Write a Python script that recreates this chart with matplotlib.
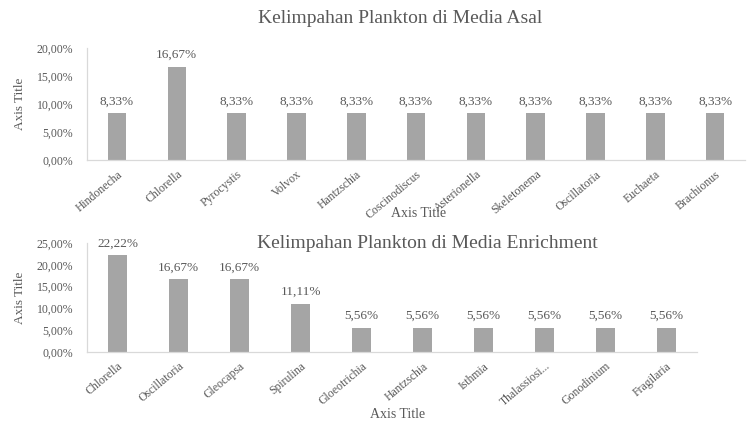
import numpy as np
import matplotlib
matplotlib.use("Agg")
import matplotlib.pyplot as plt
from matplotlib.ticker import FuncFormatter

# Kelimpahan plankton (persen) per genus
asal_genus = ["Hindonecha", "Chlorella", "Pyrocystis", "Volvox", "Hantzschia",
              "Coscinodiscus", "Asterionella", "Skeletonema", "Oscillatoria",
              "Euchaeta", "Brachionus"]
asal_pct = [8.33, 16.67, 8.33, 8.33, 8.33, 8.33, 8.33, 8.33, 8.33, 8.33, 8.33]

enrich_genus = ["Chlorella", "Oscillatoria", "Gleocapsa", "Spirulina", "Gloeotrichia",
                "Hantzschia", "Isthmia", "Thalassiosi...", "Gonodinium", "Fragilaria"]
enrich_pct = [22.22, 16.67, 16.67, 11.11, 5.56, 5.56, 5.56, 5.56, 5.56, 5.56]

asal_ticks = [0, 5, 10, 15, 20]
enrich_ticks = [0, 5, 10, 15, 20, 25]

TXT = "#595959"
BAR = "#a5a5a5"
AXL = "#d9d9d9"

plt.rcParams["font.family"] = ["Liberation Serif", "DejaVu Serif"]


def pct_fmt(v, _=None):
    return f"{v:.2f}%".replace(".", ",")


def draw(ax, names, vals, ticks, title, title_x, title_y):
    x = np.arange(len(names))
    bars = ax.bar(x, vals, width=0.31, color=BAR)
    for b, v in zip(bars, vals):
        ax.annotate(pct_fmt(v), (b.get_x() + b.get_width() / 2, v), xytext=(0, 4),
                    textcoords="offset points", ha="center", va="bottom",
                    fontsize=9.5, color=TXT, annotation_clip=False)
    ax.set_xlim(-0.5, len(names) - 0.5)
    ax.set_ylim(0, ticks[-1])
    ax.set_yticks(ticks)
    ax.yaxis.set_major_formatter(FuncFormatter(pct_fmt))
    ax.set_xticks(x)
    ax.set_xticklabels(names, rotation=40, ha="right", rotation_mode="anchor")
    ax.tick_params(axis="both", length=0, labelsize=8.5, colors=TXT)
    ax.tick_params(axis="y", pad=10)
    ax.tick_params(axis="x", pad=6)
    for s in ("top", "right"):
        ax.spines[s].set_visible(False)
    for s in ("left", "bottom"):
        ax.spines[s].set_color(AXL)
        ax.spines[s].set_linewidth(0.9)
    ax.set_ylabel("Axis Title", fontsize=9.5, color=TXT, labelpad=8)
    fig.text(title_x, title_y, title, ha="center", va="center", fontsize=14, color=TXT)


fig = plt.figure(figsize=(7.51, 4.25), dpi=100)
ax1 = fig.add_axes([0.116, 0.6235, 0.876, 0.2635])
ax2 = fig.add_axes([0.116, 0.172, 0.812, 0.256])

draw(ax1, asal_genus, asal_pct, asal_ticks, "Kelimpahan Plankton di Media Asal", 0.533, 0.957)
draw(ax2, enrich_genus, enrich_pct, enrich_ticks, "Kelimpahan Plankton di Media Enrichment", 0.569, 0.428)

fig.text(0.557, 0.497, "Axis Title", ha="center", va="center", fontsize=10, color=TXT)
fig.text(0.530, 0.024, "Axis Title", ha="center", va="center", fontsize=10, color=TXT)

fig.savefig("out.png", dpi=100, facecolor="white")
